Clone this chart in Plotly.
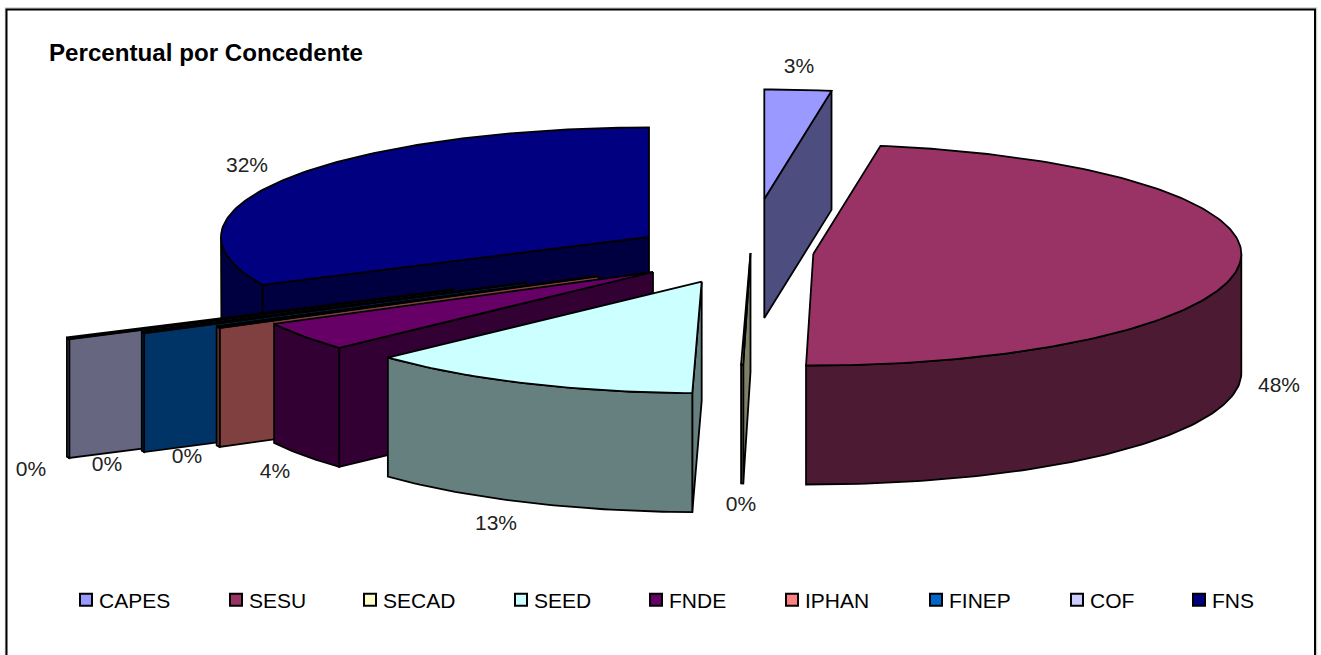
import math
import plotly.graph_objects as go

# ---- data (percent of total, clockwise from 12 o'clock) ----
categories = ["CAPES", "SESU", "SECAD", "SEED", "FNDE", "IPHAN", "FINEP", "COF", "FNS"]
values = [2.51, 47.76, 0.08, 12.75, 4.2, 0.24, 0.2, 0.2, 32.06]

# ---- styles ----
top_colors = ["#9999FF", "#993366", "#FFFFCC", "#CCFFFF", "#660066", "#FF8080", "#0066CC", "#CCCCFF", "#000080"]
side_colors = ["#4D4D80", "#4D1A33", "#808066", "#668080", "#330033", "#804040", "#003366", "#666680", "#000040"]

# ---- projection / layout (pixel-scaled hidden axes) ----
W, H = 1321, 655
RX, RY_FRONT, RY_BACK, DEPTH = 428, 111.5, 109.5, 119
CX, CY = 724, 253
explode_x = [40.3, 89.3, 26.5, -22.3, -71, -125.5, -198, -270.5, -75]
explode_y = [-54, 1, 0, 28.7, 19, 23, 29.7, 36.8, -16]
label_x = [799, 1279, 741, 496, 275, 187, 107, 31, 247]
label_y = [68, 387, 506, 525, 473, 458, 466, 471, 167]
legend_text_x = [99, 249, 383, 534, 669, 805, 949, 1090, 1212]
draw_order = [8, 7, 6, 5, 4, 3, 2, 0, 1]
LINE = 1.8


def rim(ax, ay, deg, dy=0.0):
    r = math.radians(deg)
    c = math.cos(r)
    return ax + RX * math.sin(r), ay - (RY_BACK if c > 0 else RY_FRONT) * c + dy


def poly(fig, pts, color, width=LINE):
    xs = [p[0] for p in pts] + [pts[0][0]]
    ys = [p[1] for p in pts] + [pts[0][1]]
    fig.add_trace(go.Scatter(x=xs, y=ys, mode="lines", fill="toself", fillcolor=color,
                             line=dict(color="black", width=width), hoverinfo="skip",
                             showlegend=False))


def arc(t0, t1):
    n = max(2, int(abs(t1 - t0)) + 2)
    return [t0 + (t1 - t0) * i / (n - 1) for i in range(n)]


fig = go.Figure()

total = sum(values)
starts, cum = [], 0.0
for v in values:
    starts.append(cum)
    cum += v / total * 360

for i in draw_order:
    t0 = starts[i]
    t1 = t0 + values[i] / total * 360
    ax, ay = CX + explode_x[i], CY + explode_y[i]
    apex, apex_low = (ax, ay), (ax, ay + DEPTH)
    side = side_colors[i]
    # only the radial wall that faces the viewer
    for t, visible in ((t0, math.sin(math.radians(t0)) < -1e-6), (t1, math.sin(math.radians(t1)) > 1e-6)):
        if visible:
            poly(fig, [apex, rim(ax, ay, t), rim(ax, ay, t, DEPTH), apex_low], side)
    # outer wall, front half only
    a, b = max(t0, 90), min(t1, 270)
    if b > a:
        ts = arc(a, b)
        poly(fig, [rim(ax, ay, t) for t in ts] + [rim(ax, ay, t, DEPTH) for t in reversed(ts)], side)
    # top surface (hairline slices close up into a solid black edge)
    thin = (t1 - t0) < 1 and i != 2
    poly(fig, [apex] + [rim(ax, ay, t) for t in arc(t0, t1)], top_colors[i], 2.4 if thin else LINE)

# percentage labels, computed from the values
fig.add_trace(go.Scatter(x=label_x, y=label_y, mode="text",
                         text=[f"{round(v / total * 100)}%" for v in values],
                         textposition="middle center",
                         textfont=dict(family="Liberation Sans", size=21, color="#222222"),
                         hoverinfo="skip", showlegend=False))

# one native legend per category, so that spacing follows the reference
legends = {}
for i, name in enumerate(categories):
    key = "legend" if i == 0 else f"legend{i + 1}"
    fig.add_trace(go.Scatter(x=[None], y=[None], mode="markers", name=name, legend=key,
                             marker=dict(symbol="square", size=12, color=top_colors[i],
                                         line=dict(color="black", width=2))))
    legends[key] = dict(x=(legend_text_x[i] - 40) / W, xanchor="left", y=1 - 600 / H, yanchor="middle",
                        bgcolor="rgba(0,0,0,0)", borderwidth=0, itemclick=False, itemdoubleclick=False,
                        font=dict(family="Liberation Sans", size=21, color="black"))

fig.update_layout(
    width=W, height=H, margin=dict(l=0, r=0, t=0, b=0),
    paper_bgcolor="white", plot_bgcolor="white",
    xaxis=dict(range=[0, W], visible=False, domain=[0, 1]),
    yaxis=dict(range=[H, 0], visible=False, domain=[0, 1]),
    title=dict(text="<b>Percentual por Concedente</b>", x=49 / W, xanchor="left", y=1 - 53 / H,
               yanchor="middle", font=dict(family="Liberation Sans", size=24.15, color="black")),
    shapes=[
        dict(type="rect", xref="paper", yref="paper", x0=5.5 / W, x1=1316.5 / W, y0=-0.01, y1=1 - 8 / H,
             line=dict(color="#CFCFCF", width=1.5), fillcolor="rgba(0,0,0,0)", layer="below"),
        dict(type="rect", xref="paper", yref="paper", x0=6.5 / W, x1=1315 / W, y0=-0.01, y1=1 - 9.5 / H,
             line=dict(color="black", width=2), fillcolor="rgba(0,0,0,0)", layer="below"),
    ],
    **legends,
)

fig.write_html("out.html", config={"displayModeBar": False},
               post_script="document.body.style.margin='0';document.body.style.overflow='hidden';"
                           "document.querySelectorAll('.legendsymbols').forEach(function(g){"
                           "g.setAttribute('transform','translate(7,0)');});")
